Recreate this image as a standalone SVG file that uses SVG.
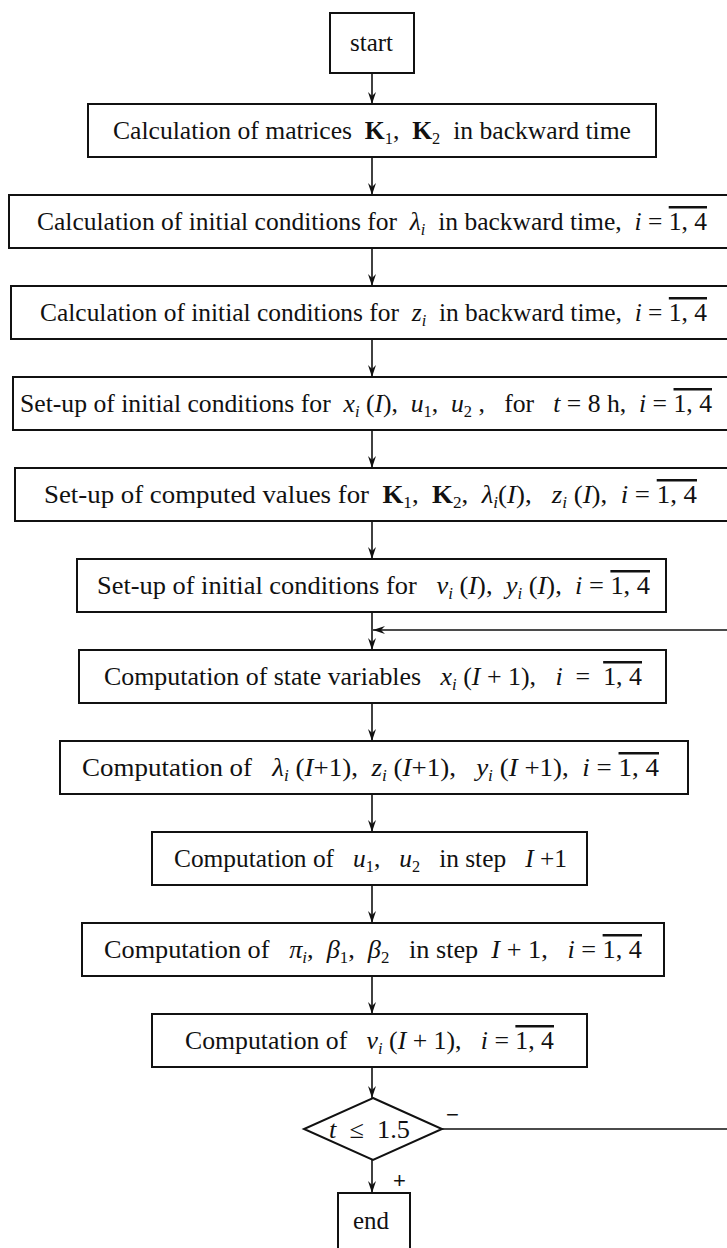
<svg xmlns="http://www.w3.org/2000/svg" width="727" height="1248" viewBox="0 0 727 1248">
<style>
.box{fill:#fff;stroke:#111;stroke-width:2}
.t{font-family:"Liberation Serif","Times New Roman",serif;font-size:25px;fill:#111;white-space:pre}
.i{font-style:italic}
.b{font-weight:bold}
.s{font-size:16px}
.ol{text-decoration:overline}
.conn{stroke:#111;stroke-width:1.6;fill:none}
.lbl{font-family:"Liberation Sans",Arial,sans-serif;font-size:22px;fill:#111}
</style>
<defs>
<marker id="ah" viewBox="0 0 12 8" refX="12" refY="4" markerWidth="12" markerHeight="8" markerUnits="userSpaceOnUse" orient="auto">
<path d="M0,0 L12,4 L0,8 L4,4 Z" fill="#111"/>
</marker>
</defs>
<rect width="727" height="1248" fill="#fff"/>
<g id="connectors">
<line class="conn" x1="372" y1="73" x2="372" y2="104" marker-end="url(#ah)"/>
<line class="conn" x1="372" y1="157" x2="372" y2="195" marker-end="url(#ah)"/>
<line class="conn" x1="372" y1="248" x2="372" y2="286" marker-end="url(#ah)"/>
<line class="conn" x1="372" y1="339" x2="372" y2="377" marker-end="url(#ah)"/>
<line class="conn" x1="372" y1="430" x2="372" y2="468" marker-end="url(#ah)"/>
<line class="conn" x1="372" y1="521" x2="372" y2="559" marker-end="url(#ah)"/>
<line class="conn" x1="372" y1="612" x2="372" y2="650" marker-end="url(#ah)"/>
<line class="conn" x1="372" y1="703" x2="372" y2="741" marker-end="url(#ah)"/>
<line class="conn" x1="372" y1="794" x2="372" y2="832" marker-end="url(#ah)"/>
<line class="conn" x1="372" y1="885" x2="372" y2="923" marker-end="url(#ah)"/>
<line class="conn" x1="372" y1="976" x2="372" y2="1014" marker-end="url(#ah)"/>
<line class="conn" x1="372" y1="1067" x2="372" y2="1098" marker-end="url(#ah)"/>
<line class="conn" x1="372" y1="1160" x2="372" y2="1193" marker-end="url(#ah)"/>
<path class="conn" d="M442,1129 H732 V630 H373" marker-end="url(#ah)"/>
<text class="lbl" x="446" y="1122">−</text>
<text class="lbl" x="393" y="1188">+</text>
</g>
<g id="start">
<rect class="box" x="330" y="13" width="84" height="60"/>
<text class="t" xml:space="preserve" x="350" y="51" textLength="43" lengthAdjust="spacingAndGlyphs">start</text>
</g>
<g id="box1">
<rect class="box" x="88" y="104" width="568" height="53"/>
<text class="t" xml:space="preserve" x="113" y="139" textLength="518" lengthAdjust="spacingAndGlyphs">Calculation of matrices  <tspan class="b">K</tspan><tspan class="s" dy="5">1</tspan><tspan dy="-5">,  </tspan><tspan class="b">K</tspan><tspan class="s" dy="5">2</tspan><tspan dy="-5">  in backward time</tspan></text>
</g>
<g id="box2">
<rect class="box" x="9" y="195" width="722" height="53"/>
<text class="t" xml:space="preserve" x="37" y="230" textLength="670" lengthAdjust="spacingAndGlyphs">Calculation of initial conditions for  <tspan class="i">λ</tspan><tspan class="s i" dy="5">i</tspan><tspan dy="-5">  in backward time,  </tspan><tspan class="i">i</tspan> = <tspan class="ol">1, 4</tspan></text>
</g>
<g id="box3">
<rect class="box" x="11" y="286" width="720" height="53"/>
<text class="t" xml:space="preserve" x="40" y="321" textLength="667" lengthAdjust="spacingAndGlyphs">Calculation of initial conditions for  <tspan class="i">z</tspan><tspan class="s i" dy="5">i</tspan><tspan dy="-5">  in backward time,  </tspan><tspan class="i">i</tspan> = <tspan class="ol">1, 4</tspan></text>
</g>
<g id="box4">
<rect class="box" x="13" y="377" width="718" height="53"/>
<text class="t" xml:space="preserve" x="20" y="412" textLength="692" lengthAdjust="spacingAndGlyphs">Set-up of initial conditions for  <tspan class="i">x</tspan><tspan class="s i" dy="5">i</tspan><tspan dy="-5"> (</tspan><tspan class="i">I</tspan>),  <tspan class="i">u</tspan><tspan class="s" dy="5">1</tspan><tspan dy="-5">,  </tspan><tspan class="i">u</tspan><tspan class="s" dy="5">2</tspan><tspan dy="-5"> ,   for   </tspan><tspan class="i">t</tspan> = 8 h,  <tspan class="i">i</tspan> = <tspan class="ol">1, 4</tspan></text>
</g>
<g id="box5">
<rect class="box" x="15" y="468" width="716" height="53"/>
<text class="t" xml:space="preserve" x="44" y="503" textLength="653" lengthAdjust="spacingAndGlyphs">Set-up of computed values for  <tspan class="b">K</tspan><tspan class="s" dy="5">1</tspan><tspan dy="-5">,  </tspan><tspan class="b">K</tspan><tspan class="s" dy="5">2</tspan><tspan dy="-5">,  </tspan><tspan class="i">λ</tspan><tspan class="s i" dy="5">i</tspan><tspan dy="-5">(</tspan><tspan class="i">I</tspan>),   <tspan class="i">z</tspan><tspan class="s i" dy="5">i</tspan><tspan dy="-5"> (</tspan><tspan class="i">I</tspan>),  <tspan class="i">i</tspan> = <tspan class="ol">1, 4</tspan></text>
</g>
<g id="box6">
<rect class="box" x="77" y="559" width="589" height="53"/>
<text class="t" xml:space="preserve" x="97" y="594" textLength="553" lengthAdjust="spacingAndGlyphs">Set-up of initial conditions for   <tspan class="i">v</tspan><tspan class="s i" dy="5">i</tspan><tspan dy="-5"> (</tspan><tspan class="i">I</tspan>),  <tspan class="i">y</tspan><tspan class="s i" dy="5">i</tspan><tspan dy="-5"> (</tspan><tspan class="i">I</tspan>),  <tspan class="i">i</tspan> = <tspan class="ol">1, 4</tspan></text>
</g>
<g id="box7">
<rect class="box" x="79" y="650" width="587" height="53"/>
<text class="t" xml:space="preserve" x="104" y="685" textLength="538" lengthAdjust="spacingAndGlyphs">Computation of state variables   <tspan class="i">x</tspan><tspan class="s i" dy="5">i</tspan><tspan dy="-5"> (</tspan><tspan class="i">I</tspan> + 1),   <tspan class="i">i</tspan>  =  <tspan class="ol">1, 4</tspan></text>
</g>
<g id="box8">
<rect class="box" x="60" y="741" width="628" height="53"/>
<text class="t" xml:space="preserve" x="82" y="776" textLength="577" lengthAdjust="spacingAndGlyphs">Computation of   <tspan class="i">λ</tspan><tspan class="s i" dy="5">i</tspan><tspan dy="-5"> (</tspan><tspan class="i">I</tspan>+1),  <tspan class="i">z</tspan><tspan class="s i" dy="5">i</tspan><tspan dy="-5"> (</tspan><tspan class="i">I</tspan>+1),   <tspan class="i">y</tspan><tspan class="s i" dy="5">i</tspan><tspan dy="-5"> (</tspan><tspan class="i">I</tspan> +1),  <tspan class="i">i</tspan> = <tspan class="ol">1, 4</tspan></text>
</g>
<g id="box9">
<rect class="box" x="152" y="832" width="435" height="53"/>
<text class="t" xml:space="preserve" x="174" y="867" textLength="393" lengthAdjust="spacingAndGlyphs">Computation of   <tspan class="i">u</tspan><tspan class="s" dy="5">1</tspan><tspan dy="-5">,   </tspan><tspan class="i">u</tspan><tspan class="s" dy="5">2</tspan><tspan dy="-5">   in step   </tspan><tspan class="i">I</tspan> +1</text>
</g>
<g id="box10">
<rect class="box" x="82" y="923" width="582" height="53"/>
<text class="t" xml:space="preserve" x="104" y="958" textLength="538" lengthAdjust="spacingAndGlyphs">Computation of   <tspan class="i">π</tspan><tspan class="s i" dy="5">i</tspan><tspan dy="-5">,  </tspan><tspan class="i">β</tspan><tspan class="s" dy="5">1</tspan><tspan dy="-5">,  </tspan><tspan class="i">β</tspan><tspan class="s" dy="5">2</tspan><tspan dy="-5">   in step  </tspan><tspan class="i">I</tspan> + 1,   <tspan class="i">i</tspan> = <tspan class="ol">1, 4</tspan></text>
</g>
<g id="box11">
<rect class="box" x="152" y="1014" width="435" height="53"/>
<text class="t" xml:space="preserve" x="185" y="1049" textLength="369" lengthAdjust="spacingAndGlyphs">Computation of   <tspan class="i">v</tspan><tspan class="s i" dy="5">i</tspan><tspan dy="-5"> (</tspan><tspan class="i">I</tspan> + 1),   <tspan class="i">i</tspan> = <tspan class="ol">1, 4</tspan></text>
</g>
<g id="decision">
<polygon class="box" points="373,1098 442,1129 373,1160 304,1129"/>
<text class="t" xml:space="preserve" x="329" y="1138" textLength="81" lengthAdjust="spacingAndGlyphs"><tspan class="i">t</tspan>  ≤  1.5</text>
</g>
<g id="end">
<rect class="box" x="338" y="1193" width="72" height="62"/>
<text class="t" xml:space="preserve" x="353" y="1229" textLength="36" lengthAdjust="spacingAndGlyphs">end</text>
</g>
</svg>
